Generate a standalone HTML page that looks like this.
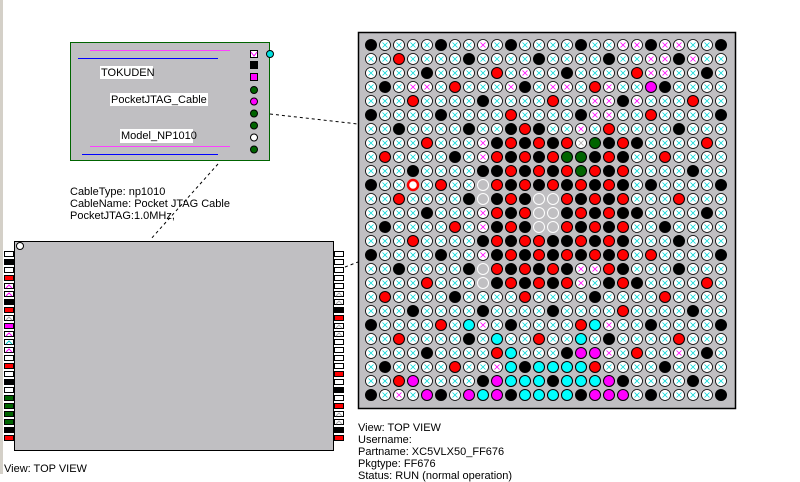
<!DOCTYPE html>
<html><head><meta charset="utf-8"><style>
body{margin:0;width:800px;height:474px;background:#fff;position:relative;overflow:hidden;font-family:"Liberation Sans",Arial,sans-serif;font-size:11px;}
.t{position:absolute;white-space:nowrap;line-height:12px;color:#000;}
</style></head><body>
<div style="position:absolute;left:0;top:0;width:3px;height:474px;background:#d4d0c8"></div>
<svg id="s" width="800" height="474" style="position:absolute;left:0;top:0">
<rect x="70.5" y="42.5" width="199" height="118" fill="#c0bfc2" stroke="#006400" stroke-width="1"/>
<line x1="90" y1="50.5" x2="230" y2="50.5" stroke="#ff40ff"/>
<line x1="78" y1="58.5" x2="218" y2="58.5" stroke="#0000ff"/>
<line x1="90" y1="146.5" x2="230" y2="146.5" stroke="#ff40ff"/>
<line x1="82" y1="154.5" x2="218" y2="154.5" stroke="#0000ff"/>
<rect x="100" y="66" width="53" height="13" fill="#fff"/>
<rect x="110" y="93" width="98" height="13" fill="#fff"/>
<rect x="120" y="129" width="73" height="14" fill="#fff"/>
<rect x="250.5" y="50.5" width="7" height="7" fill="#fff" stroke="#000"/>
<path d="M251 52 L254 56 L257 52" stroke="#f0f" fill="none"/>
<rect x="250" y="61" width="8" height="8" fill="#000"/>
<rect x="250.5" y="73.5" width="7" height="7" fill="#f0f" stroke="#000"/>
<circle cx="254" cy="90" r="3.5" fill="#006400" stroke="#000"/>
<circle cx="254" cy="101.5" r="3.5" fill="#f0f" stroke="#000"/>
<circle cx="254" cy="113.5" r="3.5" fill="#006400" stroke="#000"/>
<circle cx="254" cy="125.5" r="3.5" fill="#006400" stroke="#000"/>
<circle cx="254" cy="137.5" r="3.5" fill="#fff" stroke="#000"/>
<circle cx="254" cy="149.5" r="3.5" fill="#006400" stroke="#000"/>
<circle cx="270" cy="54" r="3.5" fill="#00e0e0" stroke="#000"/>
<line x1="270" y1="114" x2="358" y2="124" stroke="#000" stroke-dasharray="3,3"/>
<line x1="218" y1="164" x2="150" y2="240" stroke="#000" stroke-dasharray="3,3"/>
<line x1="345" y1="267" x2="358" y2="262" stroke="#000" stroke-dasharray="3,3"/>
<rect x="14.5" y="241.5" width="319" height="209" fill="#c0bfc2" stroke="#000"/>
<circle cx="20" cy="246" r="3.5" fill="#fff" stroke="#000"/>
<rect x="358.5" y="32.5" width="377" height="376" fill="#c0bfc2" stroke="#000" stroke-width="1.5"/>
<g id="g"></g>
</svg>
<div class="t" style="left:101px;top:67px">TOKUDEN</div>
<div class="t" style="left:111px;top:94px">PocketJTAG_Cable</div>
<div class="t" style="left:121px;top:130px">Model_NP1010</div>
<div class="t" style="left:70px;top:186px">CableType: np1010</div>
<div class="t" style="left:70px;top:198px">CableName: Pocket JTAG Cable</div>
<div class="t" style="left:70px;top:210px">PocketJTAG:1.0MHz,</div>
<div class="t" style="left:4px;top:463px">View: TOP VIEW</div>
<div class="t" style="left:358px;top:422px">View: TOP VIEW</div>
<div class="t" style="left:358px;top:434px">Username:</div>
<div class="t" style="left:358px;top:446px">Partname: XC5VLX50_FF676</div>
<div class="t" style="left:358px;top:458px">Pkgtype: FF676</div>
<div class="t" style="left:358px;top:470px">Status: RUN (normal operation)</div>
<script>
var A=[
"KWWWWKWWPWKWW"+"WWKWWPPKPPWWK",
"WWRWWWWKWWWWK"+"WWWWKWWPPKPWW",
"WWWWKWWWWRWPW"+"WKWWWWRPPWWKW",
"WKWPPWRWWWPKW"+"PPWRPWWMKWWWW",
"WWWRWWWWKWWWW"+"RWWPPKPWWWRWW",
"KWWWWKWWWWRWW"+"WWKPPWWRWWWWK",
"WWKWWWWKWWKRK"+"WWPWRWWWWKWWW",
"WWWWRWWWPKRKR"+"KRSGKRKWWWWRW",
"WRWWWWKWPRKRK"+"RGGKRKWWRWWWW",
"WWWKWWWWKKRKR"+"KRGRKRWWWWKWW",
"KWWOWRWWERKRK"+"RKRKRKWKWWWWK",
"WWRWWWWKEKRKE"+"ERKRKRWWWRWWW",
"WWWWKWWWPRKRE"+"EKRKRKKWWWWKW",
"WKWWWWRWPKRKE"+"ERKRKRWWKWWWW",
"WWWRWWWWKRKRR"+"KKRKRKWWWKWWW",
"KWWWWKWWPKRKR"+"KRKRKRWRWWWWK",
"WWKWWWWKERKRK"+"RKPPRKWWWKWWW",
"WWWWRWWWEKRKR"+"KRPWKRKWWWWRW",
"WRWWWWKWWWWRW"+"WWWKWWWWRWWWW",
"WWWKWWWWKWWWW"+"KWWWWRWWWWKWW",
"KWWWWRWCPWKWW"+"WWRCPWWKWWWWK",
"WWRWWWWKWCWWR"+"WWCWKWWWWRWWW",
"WWWWKWWWWRCWW"+"WKMMPWRWWPWKW",
"WKWWWWRWWPCKC"+"CCCRWWWWKWWWW",
"WWRMWWWWKMCCC"+"KCCCMKWWWWKWW",
"KWPWMKWMCMKCC"+"CCKMMMWKWWWWK"];
var F={K:"#000",R:"#f00",G:"#006400",M:"#f0f",C:"#00ffff"};
var h="";
for(var r=0;r<26;r++)for(var c=0;c<26;c++){
 var ch=A[r][c],x=371+c*14,y=45+r*14;
 if(F[ch]){h+='<circle cx="'+x+'" cy="'+y+'" r="5.5" fill="'+F[ch]+'" stroke="#000" stroke-width="1"/>';}
 else if(ch=="E"){h+='<circle cx="'+x+'" cy="'+y+'" r="5.5" fill="#c0bfc2" stroke="#fff" stroke-width="1"/>';}
 else if(ch=="O"){h+='<circle cx="'+x+'" cy="'+y+'" r="5" fill="#fff" stroke="#f00" stroke-width="2.5"/>';}
 else{var col=ch=="P"?"#f0f":(ch=="S"?"#aaa":"#00d8d8");
  h+='<circle cx="'+x+'" cy="'+y+'" r="5.5" fill="#fff" stroke="#000" stroke-width="0.8"/>';
  h+='<path d="M'+(x-2.5)+' '+(y-2.5)+'L'+(x+2.5)+' '+(y+2.5)+'M'+(x+2.5)+' '+(y-2.5)+'L'+(x-2.5)+' '+(y+2.5)+'" stroke="'+col+'" stroke-width="0.8"/>';}
}
var L="WKWRPPKRSMPQPWRWKWGGGGKR",Rr="WWWWWSSKRSSWWWWRWKWRSSKR";
function pin(x,y,ch){var f=ch=="K"?"#000":ch=="R"?"#f00":ch=="G"?"#006400":ch=="M"?"#f0f":"#fff";
 var s='<rect x="'+(x+.5)+'" y="'+(y+.5)+'" width="9" height="5" fill="'+f+'" stroke="#000"/>';
 if(ch=="P"||ch=="Q"||ch=="S"){var c=ch=="P"?"#f0f":ch=="Q"?"#0cc":"#aaa";s+='<path d="M'+(x+2)+' '+(y+5)+'L'+(x+5)+' '+(y+2)+'L'+(x+8)+' '+(y+5)+'" stroke="'+c+'" fill="none"/>';}
 return s;}
for(var i=0;i<24;i++){h+=pin(4,251+i*8,L[i]);h+=pin(334,251+i*8,Rr[i]);}
document.getElementById("g").innerHTML=h;
</script>
</body></html>
